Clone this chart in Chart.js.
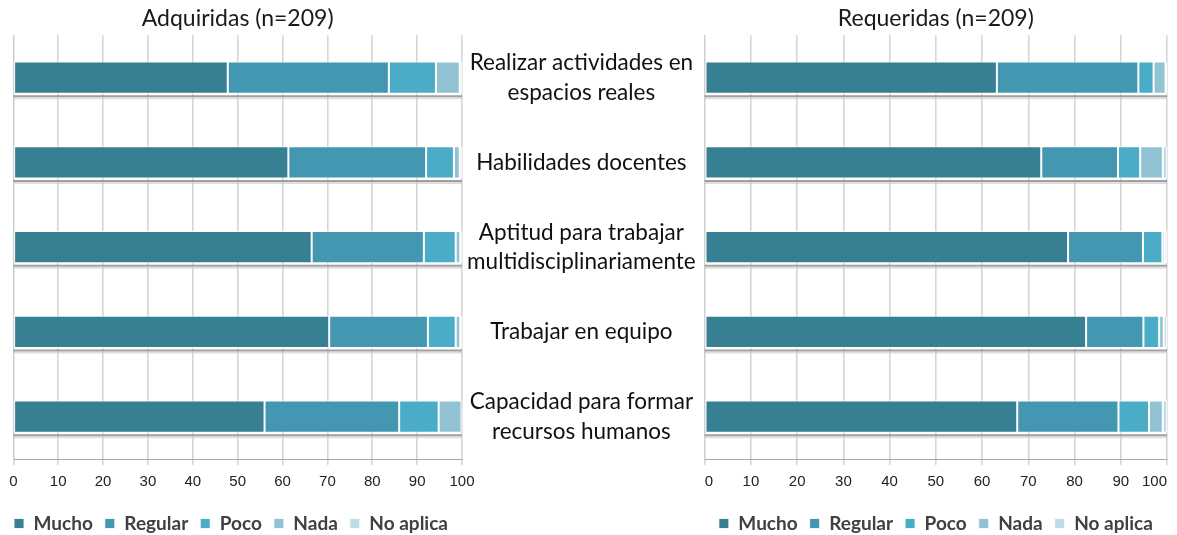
<!DOCTYPE html>
<html>
<head>
<meta charset="utf-8">
<script src="https://cdn.jsdelivr.net/npm/chart.js@4.4.1/dist/chart.umd.min.js"></script>
<style>
  html, body { margin: 0; padding: 0; background: #ffffff; }
  body { width: 1177px; height: 535px; position: relative; overflow: hidden; }
  #wrapL { position: absolute; left: 0; top: 0; width: 475px; height: 543px; }
  #wrapR { position: absolute; left: 462px; top: 0; width: 718px; height: 543px; }
</style>
</head>
<body>
<div id="wrapL"><canvas id="left"></canvas></div>
<div id="wrapR"><canvas id="right"></canvas></div>
<script>
// ---- data ----
const categories = [
  ["Realizar actividades en", "espacios reales"],
  "Habilidades docentes",
  ["Aptitud para trabajar", "multidisciplinariamente"],
  "Trabajar en equipo",
  ["Capacidad para formar", "recursos humanos"]
];
const seriesNames = ["Mucho", "Regular", "Poco", "Nada", "No aplica"];
const xTicks = [0, 10, 20, 30, 40, 50, 60, 70, 80, 90, 100];

// Adquiridas (n=209)
const adqMucho    = [47.8, 61.3, 66.5, 70.4, 56.0];
const adqRegular  = [35.9, 30.7, 25.0, 22.0, 30.0];
const adqPoco     = [10.5,  6.2,  7.1,  6.2,  8.8];
const adqNada     = [ 5.3,  1.3,  1.0,  1.0,  5.1];
const adqNoAplica = [ 0.5,  0.5,  0.4,  0.4,  0.1];

// Requeridas (n=209)
const reqMucho    = [63.2, 72.8, 78.6, 82.5, 67.6];
const reqRegular  = [30.6, 16.6, 16.2, 12.4, 21.9];
const reqPoco     = [ 3.3,  4.8,  4.2,  3.4,  6.6];
const reqNada     = [ 2.6,  4.9,  0.5,  1.0,  3.0];
const reqNoAplica = [ 0.3,  0.9,  0.5,  0.7,  0.9];

const colors = ["#377f93", "#4397b0", "#4aacc6", "#92c3d4", "#bcdce7"];

function makeDatasets(arrs) {
  return arrs.map((d, i) => ({
    label: seriesNames[i],
    data: d,
    backgroundColor: colors[i],
    borderColor: "rgba(255,255,255,0.85)",
    borderWidth: 1,
    borderSkipped: false,
    barPercentage: 0.38,
    categoryPercentage: 1.0
  }));
}

// grey shadow line under each bar row, across the plot area
const shadowPlugin = {
  id: "rowShadow",
  beforeDatasetsDraw(chart) {
    const meta = chart.getDatasetMeta(0);
    const area = chart.chartArea;
    const ctx = chart.ctx;
    ctx.save();
    meta.data.forEach(el => {
      const y = el.y + el.height / 2 + 2.5;
      ctx.strokeStyle = "rgba(150,150,150,0.9)";
      ctx.lineWidth = 2;
      ctx.beginPath(); ctx.moveTo(area.left, y); ctx.lineTo(area.right, y); ctx.stroke();
      ctx.strokeStyle = "rgba(200,200,200,0.6)";
      ctx.lineWidth = 2;
      ctx.beginPath(); ctx.moveTo(area.left, y + 2); ctx.lineTo(area.right, y + 2); ctx.stroke();
    });
    ctx.restore();
  }
};

const tickFont = { family: "'Liberation Sans', Arial, sans-serif", size: 15 };
const labelFont = { family: "Lato, 'Open Sans', sans-serif", size: 22.5, lineHeight: 1.3 };
const legendFont = { family: "Lato, sans-serif", size: 19, weight: "bold" };

function baseOptions(title, yOpts, legendFull, tickAlign) {
  return {
    indexAxis: "y",
    responsive: true,
    maintainAspectRatio: false,
    animation: false,
    layout: { padding: { left: 0, right: 13, top: 0, bottom: 0 } },
    plugins: {
      title: {
        display: true, text: title, fullSize: false,
        color: "#1a1a1a",
        font: { family: "Lato, sans-serif", size: 23, weight: "normal", lineHeight: 1.1 },
        padding: { top: 6, bottom: 4 }
      },
      legend: {
        position: "bottom", fullSize: legendFull,
        labels: {
          boxWidth: 10, boxHeight: 10, padding: 12,
          color: "#404040", font: legendFont
        }
      },
      tooltip: { enabled: false }
    },
    scales: {
      x: {
        stacked: true, min: 0, max: 100,
        afterBuildTicks: (s) => { s.ticks = xTicks.map(v => ({ value: v })); },
        afterFit: (s) => { s.height = 43; s.paddingLeft = 0; s.paddingRight = 0; },
        ticks: { color: "#222", font: tickFont, padding: 8, maxRotation: 0, align: tickAlign },
        grid: { color: "#d6d6d6", lineWidth: 1.6, tickLength: 6, drawTicks: true },
        border: { display: true, color: "#a8a8a8", width: 1 }
      },
      y: Object.assign({ stacked: true }, yOpts)
    }
  };
}

new Chart(document.getElementById("left"), {
  type: "bar",
  data: {
    labels: categories,
    datasets: makeDatasets([adqMucho, adqRegular, adqPoco, adqNada, adqNoAplica])
  },
  options: baseOptions("Adquiridas (n=209)", {
    position: "left",
    afterFit: (s) => { s.width = 13.3; s.paddingTop = 0; s.paddingBottom = 0; },
    ticks: { display: false },
    grid: { display: false, drawTicks: false },
    border: { display: true, color: "#cfcfcf", width: 1 }
  }, true, "center"),
  plugins: [shadowPlugin]
});

new Chart(document.getElementById("right"), {
  type: "bar",
  data: {
    labels: categories,
    datasets: makeDatasets([reqMucho, reqRegular, reqPoco, reqNada, reqNoAplica])
  },
  options: baseOptions("Requeridas (n=209)", {
    position: "left",
    afterFit: (s) => { s.width = 242.7; s.paddingTop = 0; s.paddingBottom = 0; },
    ticks: { crossAlign: "center", color: "#111", font: labelFont, padding: 9 },
    grid: { display: false, drawTicks: false },
    border: { display: true, color: "#cfcfcf", width: 1 }
  }, false, "inner"),
  plugins: [shadowPlugin]
});
</script>
</body>
</html>
